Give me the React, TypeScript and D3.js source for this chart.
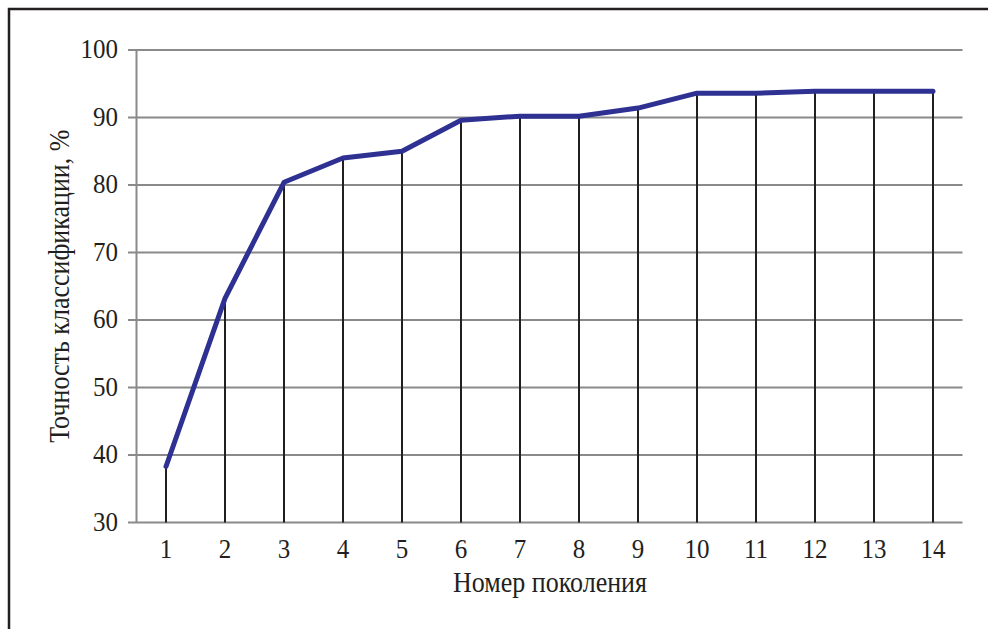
import React from "react";
import * as d3 from "d3";

const generations = [1, 2, 3, 4, 5, 6, 7, 8, 9, 10, 11, 12, 13, 14];
const accuracy = [38.3, 63.2, 80.4, 84.0, 85.0, 89.6, 90.2, 90.2, 91.4, 93.6, 93.6, 93.9, 93.9, 93.9];
const yTicks = [30, 40, 50, 60, 70, 80, 90, 100];
const yTitle = "Точность классификации, %";
const xTitle = "Номер поколения";

const W = 988, H = 629;
const left = 136.5, right = 962.5, top = 50, bottom = 522.5;
const font = "'Liberation Serif', 'Times New Roman', serif";
const ink = "#231f20";

export default function App() {
  const x = d3.scaleBand<number>().domain(generations).range([left, right]).padding(0);
  const y = d3.scaleLinear().domain([30, 100]).range([bottom, top]);
  const cx = (g: number) => (x(g) as number) + x.bandwidth() / 2;
  const line = d3.line<number>().x((_, i) => cx(generations[i])).y((d) => y(d));
  return (
    <svg width={W} height={H} style={{ position: "absolute", left: 0, top: 0, background: "#fff" }}>
      <rect x={9} y={9} width={W + 10} height={H + 10} fill="none" stroke={ink} strokeWidth={2.5} />
      {yTicks.map((t) => (
        <g key={t}>
          <line x1={128} x2={right} y1={y(t)} y2={y(t)} stroke="#8a8a8c" strokeWidth={2} />
          <text transform={`translate(118, ${y(t) + 8}) scale(1, 1.1)`} textAnchor="end" fontFamily={font} fontSize={25} fill={ink}>{t}</text>
        </g>
      ))}
      <line x1={left} x2={left} y1={top} y2={bottom} stroke="#8a8a8c" strokeWidth={2} />
      {generations.map((g, i) => (
        <g key={g}>
          <line x1={cx(g)} x2={cx(g)} y1={y(accuracy[i])} y2={bottom} stroke={ink} strokeWidth={2} />
          <text transform={`translate(${cx(g)}, 558) scale(1, 1.1)`} textAnchor="middle" fontFamily={font} fontSize={25} fill={ink}>{g}</text>
        </g>
      ))}
      <path d={line(accuracy) || ""} fill="none" stroke="#2e3192" strokeWidth={5} strokeLinejoin="round" strokeLinecap="round" />
      <text transform={`translate(550, 592) scale(1, 1.1)`} textAnchor="middle" fontFamily={font} fontSize={26} fill={ink}>{xTitle}</text>
      <text transform={`translate(69, ${(top + bottom) / 2}) rotate(-90) scale(1, 1.1)`} textAnchor="middle" fontFamily={font} fontSize={26} fill={ink}>{yTitle}</text>
    </svg>
  );
}
